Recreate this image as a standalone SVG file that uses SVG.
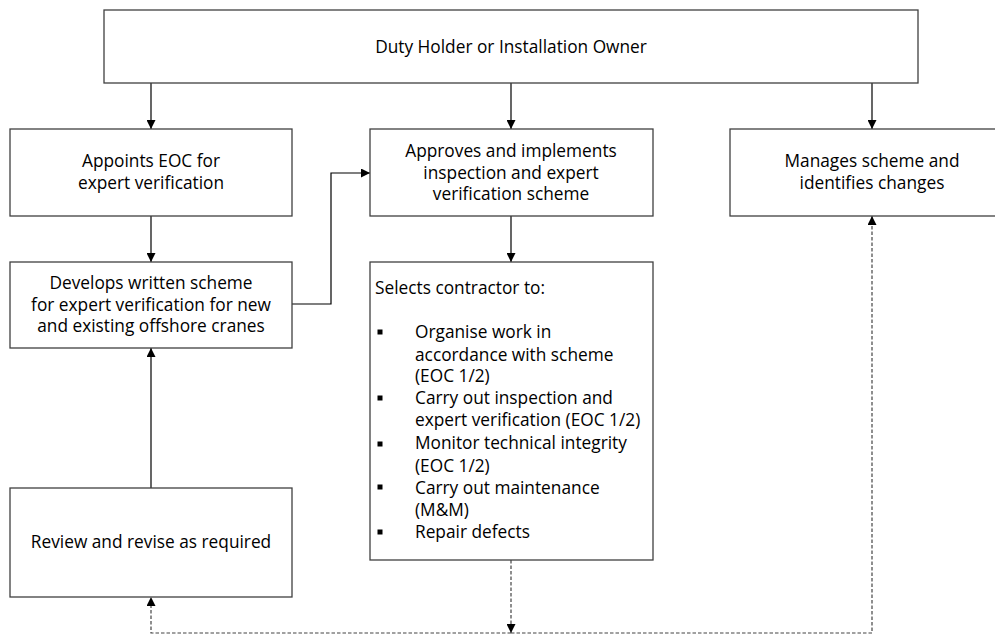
<svg xmlns="http://www.w3.org/2000/svg" width="995" height="635" viewBox="0 0 995 635">
<defs>
<style>
.box{fill:#fff;stroke:#404040;stroke-width:1.3}
.t{font-family:"Open Sans","Liberation Sans",sans-serif;font-size:17.3px;fill:#000}
.c{text-anchor:middle}
.ln{fill:none;stroke:#000;stroke-width:1.2}
.dl{fill:none;stroke:#444;stroke-width:1.2;stroke-dasharray:3.5 2}
.bl{fill:#000}
</style>
<marker id="ah" viewBox="0 0 10 10" refX="10" refY="5" markerWidth="9" markerHeight="9" markerUnits="userSpaceOnUse" orient="auto">
<path d="M0,0 L10,5 L0,10 Z" fill="#000"/>
</marker>
</defs>
<rect width="995" height="635" fill="#fff"/>
<g id="connectors">
<path class="ln" d="M151,83 V129" marker-end="url(#ah)"/>
<path class="ln" d="M511,83 V129" marker-end="url(#ah)"/>
<path class="ln" d="M872,83 V129" marker-end="url(#ah)"/>
<path class="ln" d="M151,216 V262" marker-end="url(#ah)"/>
<path class="ln" d="M511,216 V262" marker-end="url(#ah)"/>
<path class="ln" d="M292,304 H331 V173 H370" marker-end="url(#ah)"/>
<path class="ln" d="M151,488 V348" marker-end="url(#ah)"/>
<path class="dl" d="M511,560 V633" marker-end="url(#ah)"/>
<path class="dl" d="M511,633 H151 V597" marker-end="url(#ah)"/>
<path class="dl" d="M511,633 H872 V216" marker-end="url(#ah)"/>
</g>
<g id="duty-holder">
<rect class="box" x="104" y="10" width="814" height="73"/>
<text class="t c" x="511" y="53">Duty Holder or Installation Owner</text>
</g>
<g id="appoints">
<rect class="box" x="10" y="129" width="282" height="87"/>
<text class="t c" x="151" y="167">Appoints EOC for</text>
<text class="t c" x="151" y="189">expert verification</text>
</g>
<g id="approves">
<rect class="box" x="370" y="129" width="283" height="87"/>
<text class="t c" x="511" y="157">Approves and implements</text>
<text class="t c" x="511" y="179">inspection and expert</text>
<text class="t c" x="511" y="200">verification scheme</text>
</g>
<g id="manages">
<rect class="box" x="730" y="129" width="284" height="87"/>
<text class="t c" x="872" y="167">Manages scheme and</text>
<text class="t c" x="872" y="189">identifies changes</text>
</g>
<g id="develops">
<rect class="box" x="10" y="262" width="282" height="86"/>
<text class="t c" x="151" y="289">Develops written scheme</text>
<text class="t c" x="151" y="311">for expert verification for new</text>
<text class="t c" x="151" y="332">and existing offshore cranes</text>
</g>
<g id="selects">
<rect class="box" x="370" y="262" width="283" height="298"/>
<text class="t" x="375" y="294">Selects contractor to:</text>
<rect class="bl" x="377.5" y="329.5" width="5" height="5"/>
<rect class="bl" x="377.5" y="395.5" width="5" height="5"/>
<rect class="bl" x="377.5" y="441.5" width="5" height="5"/>
<rect class="bl" x="377.5" y="484.5" width="5" height="5"/>
<rect class="bl" x="377.5" y="529.5" width="5" height="5"/>
<text class="t" x="415" y="338">Organise work in</text>
<text class="t" x="415" y="361">accordance with scheme</text>
<text class="t" x="415" y="382">(EOC 1/2)</text>
<text class="t" x="415" y="404">Carry out inspection and</text>
<text class="t" x="415" y="426">expert verification (EOC 1/2)</text>
<text class="t" x="415" y="449">Monitor technical integrity</text>
<text class="t" x="415" y="472">(EOC 1/2)</text>
<text class="t" x="415" y="494">Carry out maintenance</text>
<text class="t" x="415" y="516">(M&amp;M)</text>
<text class="t" x="415" y="538">Repair defects</text>
</g>
<g id="review">
<rect class="box" x="10" y="488" width="282" height="109"/>
<text class="t c" x="151" y="548">Review and revise as required</text>
</g>
</svg>
